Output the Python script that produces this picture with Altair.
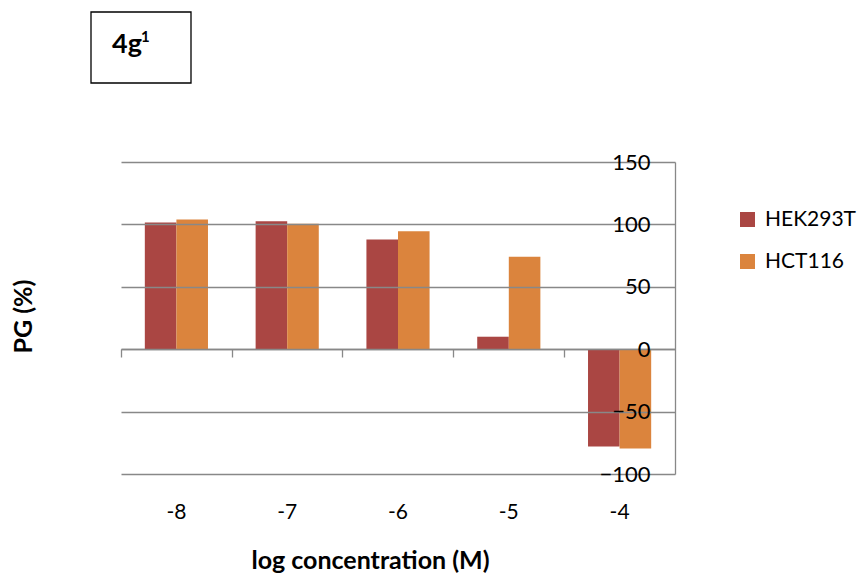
import altair as alt
import pandas as pd

categories = ["-8", "-7", "-6", "-5", "-4"]
series_names = ["HEK293T", "HCT116"]
hek293t = [101.5, 102.5, 88, 10, -78]
hct116 = [104, 100.5, 94.5, 74, -79.5]
y_ticks = [-100, -50, 0, 50, 100, 150]
colors = ["#AA4643", "#DB843D"]

rows = []
for i, c in enumerate(categories):
    rows.append({"conc": c, "series": "HEK293T", "pg": hek293t[i]})
    rows.append({"conc": c, "series": "HCT116", "pg": hct116[i]})
df = pd.DataFrame(rows)

W, H = 554, 312
FONT = "Lato"
GREY = "#888888"

xscale = alt.Scale(domain=categories, paddingInner=0.43, paddingOuter=0.215)
yscale = alt.Scale(domain=[-100, 150], nice=False, zero=False)

bars = alt.Chart(df).mark_bar().encode(
    x=alt.X("conc:N", sort=categories, scale=xscale,
            axis=alt.Axis(orient="bottom", title="log concentration (M)", domain=False, ticks=False,
                          labelPadding=27, labelFontSize=21, labelFont=FONT,
                          labelColor="black", labelAngle=0, labelFontWeight="normal",
                          titleFont=FONT, titleFontSize=25, titleFontWeight="bold",
                          titleX=249, titleY=86, titleBaseline="middle",
                          titleAlign="center", titleColor="black")),
    xOffset=alt.XOffset("series:N", sort=series_names,
                        scale=alt.Scale(domain=series_names, paddingInner=0, paddingOuter=0)),
    y=alt.Y("pg:Q", scale=yscale,
            axis=alt.Axis(orient="left", offset=-W, values=y_ticks, title=None,
                          grid=True, gridColor=GREY, gridWidth=1.3,
                          domain=True, domainColor=GREY, domainWidth=1.3,
                          ticks=False, labelPadding=25, labelFontSize=22,
                          labelFont=FONT, labelColor="black", zindex=1)),
    color=alt.Color("series:N", sort=series_names,
                    scale=alt.Scale(domain=series_names, range=colors),
                    legend=alt.Legend(title=None, orient="none", legendX=616, legendY=47,
                                      symbolType="square", symbolSize=225,
                                      symbolStrokeWidth=0, symbolOpacity=1,
                                      labelFontSize=21, labelFont=FONT,
                                      labelColor="black", rowPadding=20,
                                      labelOffset=7, padding=0)),
)

zero_axis = alt.Chart(df).mark_point(opacity=0).encode(
    x=alt.X("conc:N", sort=categories, scale=xscale,
            axis=alt.Axis(orient="bottom", offset=-125, labels=False, title=None,
                          domain=True, domainColor=GREY, domainWidth=1.3,
                          ticks=True, tickColor=GREY, tickWidth=1.3, tickSize=8,
                          bandPosition=0, tickOffset=-24, grid=False)),
    y=alt.Y("pg:Q", scale=yscale,
            axis=alt.Axis(orient="left", labels=False, ticks=False, domain=False,
                          grid=False, title="PG (%)", titleX=-98, titleY=154,
                          titleFont=FONT, titleFontSize=25, titleFontWeight="bold",
                          titleColor="black", titleBaseline="middle",
                          titleAlign="center", titleAngle=270)),
)

box_df = pd.DataFrame({"label": ["4g"], "sup": ["1"]})
box = alt.Chart(box_df).mark_rect(fill="white", stroke="black", strokeWidth=1.3).encode(
    x=alt.value(-30), x2=alt.value(70), y=alt.value(-150), y2=alt.value(-79)
)
box_text = alt.Chart(box_df).mark_text(
    font=FONT, fontSize=27, fontWeight="bold", align="left", baseline="alphabetic", color="black"
).encode(x=alt.value(-9), y=alt.value(-109), text="label:N")
box_sup = alt.Chart(box_df).mark_text(
    font=FONT, fontSize=15, fontWeight="bold", align="left", baseline="alphabetic", color="black"
).encode(x=alt.value(20), y=alt.value(-120), text="sup:N")

chart = alt.layer(zero_axis, bars, box, box_text, box_sup).resolve_axis(
    x="independent", y="independent"
).properties(
    width=W, height=H,
    padding={"left": 121, "top": 162, "right": 188, "bottom": 106},
    autosize=alt.AutoSizeParams(type="none"),
).configure_view(stroke=None)

chart.save("out.html", embed_options={"renderer": "svg", "actions": False})
